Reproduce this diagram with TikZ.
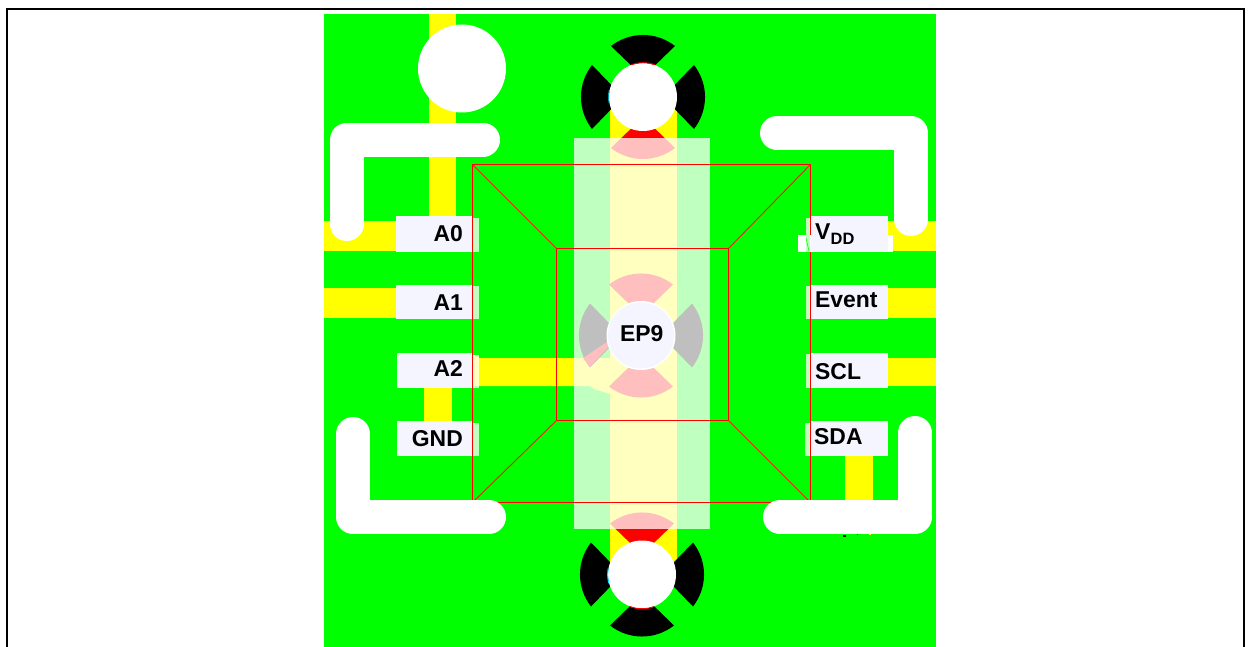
\documentclass[tikz,border=0pt]{standalone}
\usepackage{fontspec}
\setmainfont{Liberation Sans}
\definecolor{pcbgreen}{RGB}{0,255,0}
\definecolor{trace}{RGB}{255,255,0}
\definecolor{padwhite}{RGB}{245,245,255}
\definecolor{palegreen}{RGB}{192,255,192}
\definecolor{paleyellow}{RGB}{255,255,192}
\definecolor{diagred}{RGB}{225,40,20}
\definecolor{rimblue}{RGB}{0,230,255}
\newcommand{\petal}[4]{\fill[#4,shift={(#1,#2)},rotate=#3] (0,-20) -- (-32,-51) .. controls (-13,-65.7) and (13,-65.7) .. (32,-51) -- cycle;}
\tikzset{
  lbl/.style={inner sep=0pt,font=\fontsize{23}{27}\selectfont\bfseries,text=black},
  lblsub/.style={inner sep=0pt,font=\fontsize{16.5}{20}\selectfont\bfseries,text=black},
  keepout/.style={line width=34bp,white,line cap=round,line join=round},
  redbar/.style={fill=red},
  diagline/.style={draw=diagred,line width=0.9bp},
  padbox/.style={fill=padwhite},
  rimred/.style={draw=red,line width=1bp},
  rimcyan/.style={draw=rimblue,line width=1bp}
}
\begin{document}
\begin{tikzpicture}[x=1bp,y=-1bp]
\useasboundingbox (0,0) rectangle (1251,647);
\fill[white] (0,0) rectangle (1251,647);
% frame
\draw[black,line width=2bp] (7,647) -- (7,9) -- (1244,9) -- (1244,647);
% board
\fill[pcbgreen] (324,14) rectangle (936,647);
% traces
\fill[trace] (429,14) rectangle (456,225);
\fill[trace] (324,221) rectangle (400,251);
\fill[trace] (324,288) rectangle (400,318);
\fill[trace] (424,385) rectangle (452,425);
\fill[trace] (478,358) -- (610,358) -- (610,394) -- (594,389) -- (590,386) -- (478,386) -- cycle;
\fill[trace] (885,221) rectangle (936,251);
\fill[trace] (885,288) rectangle (936,318);
\fill[trace] (885,358) rectangle (936,386);
\fill[trace] (845,452) rectangle (873,505);
\fill[trace] (610,97) rectangle (677,574);
% thermal petals, top drill
\petal{643}{97}{0}{black}
\petal{643}{97}{90}{black}
\petal{643}{97}{270}{black}
\petal{643}{97}{180}{red}
% centre drill
\petal{641}{335.5}{0}{red}
\petal{641}{335.5}{180}{red}
\petal{641}{335.5}{90}{black}
\petal{641}{335.5}{270}{black}
\fill[red] (583,358) -- (590,367) -- (610,345) -- (607,342) -- cycle;
% bottom drill
\petal{642}{574.5}{0}{red}
\petal{642}{574.5}{90}{black}
\petal{642}{574.5}{270}{black}
\petal{642}{574.5}{180}{black}
% package overlay
\fill[white,opacity=0.75] (574,138) rectangle (710,529);
% drills
\fill[white] (643,97) circle[radius=34];
\draw[rimred] (631.3,64.8) arc[start angle=110,end angle=70,radius=34.3bp];
\draw[rimcyan] (609.5,89.9) arc[start angle=168,end angle=190,radius=34.3bp];
\fill[white] (642,574.5) circle[radius=34];
\draw[rimred] (630.3,606.7) arc[start angle=250,end angle=290,radius=34.3bp];
\draw[rimcyan] (608.2,568.5) arc[start angle=170,end angle=195,radius=34.3bp];
\fill[white] (641,335.5) circle[radius=34.5];
\fill[padwhite] (641,335.5) circle[radius=33];
\fill[white] (462,68.5) circle[radius=44];
% package outline
\fill[redbar] (472,164) rectangle (811,165);
\fill[redbar] (472,502) rectangle (811,503);
\fill[redbar] (472,164) rectangle (473,503);
\fill[redbar] (810,164) rectangle (811,503);
\fill[redbar] (556,248) rectangle (729,249);
\fill[redbar] (556,420) rectangle (729,421);
\fill[redbar] (556,248) rectangle (557,421);
\fill[redbar] (728,248) rectangle (729,421);
\draw[diagline] (472.5,164.5) -- (556.5,248.5);
\draw[diagline] (810.5,164.5) -- (728.5,248.5);
\draw[diagline] (472.5,502.5) -- (556.5,420.5);
\draw[diagline] (810.5,502.5) -- (728.5,420.5);
% keep-out corners
\draw[keepout] (346.6,224) -- (346.6,139.6) -- (483,139.6);
\draw[keepout] (777,133) -- (911,133) -- (911,219);
\draw[keepout] (353,434) -- (353,517) -- (489,517);
\draw[keepout] (915,433) -- (915,517) -- (780,517);
\fill[black] (843,535) rectangle (846,537);
\fill[red] (857,534) rectangle (858,535);
\fill[trace] (869,534) rectangle (871,535);
% pads, left
\fill[palegreen] (473,218) rectangle (478.5,252);
\fill[palegreen] (473,286) rectangle (478.5,319);
\fill[paleyellow] (473,355) rectangle (478.5,386);
\fill[palegreen] (473,386) rectangle (478.5,388);
\fill[palegreen] (473,423) rectangle (478.5,456);
\fill[padbox] (396,216) rectangle (472,252);
\fill[padbox] (396,285) rectangle (472,319);
\fill[padbox] (397,353) rectangle (472,388);
\fill[padbox] (397,421) rectangle (472,456);
% pads, right
\fill[white] (798,235) rectangle (893,252);
\fill[palegreen] (806,218) rectangle (810,252);
\draw[pcbgreen,line width=0.6bp] (806,238) -- (809,251);
\fill[palegreen] (806,286) rectangle (810,319);
\fill[palegreen] (806,354) rectangle (810,388);
\fill[palegreen] (805,423) rectangle (810,456);
\fill[padbox] (811,216) rectangle (888,252);
\fill[padbox] (811,285) rectangle (888,319);
\fill[padbox] (811,353) rectangle (888,388);
\fill[padbox] (811,421) rectangle (888,456);
% labels
\node[lbl,anchor=base east] (a0) at (463,241.7) {A0};
\node[lbl,anchor=base east] (a1) at (463,310.7) {A1};
\node[lbl,anchor=base east] (a2) at (463,376.7) {A2};
\node[lbl,anchor=base east] (gnd) at (463,446.7) {GND};
\node[lbl,anchor=base west] (vdd) at (815,239.3) {V};
\node[lblsub,anchor=base west] (vddsub) at (830.5,245) {DD};
\node[lbl,anchor=base west] (event) at (815,308) {Event};
\node[lbl,anchor=base west] (scl) at (815,379) {SCL};
\node[lbl,anchor=base west] (sda) at (814,444) {SDA};
\node[lbl,anchor=base] (ep9) at (641.7,341.7) {EP9};
\end{tikzpicture}
\end{document}
